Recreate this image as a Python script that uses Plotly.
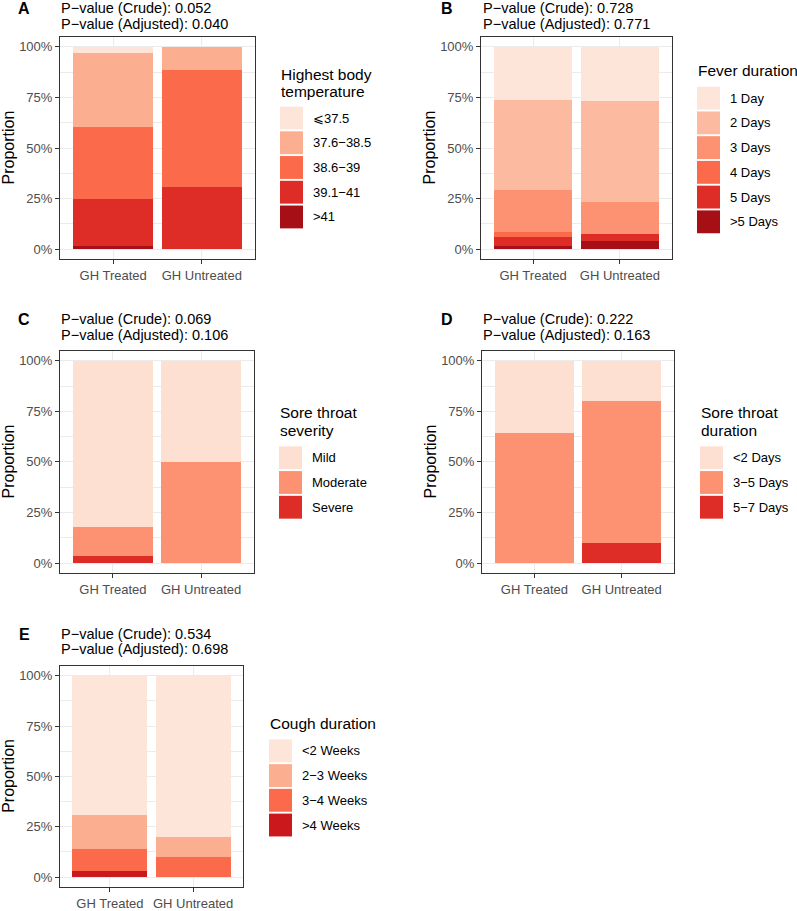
import plotly.graph_objects as go

# ---------------- data ----------------
categories = ["GH Treated", "GH Untreated"]

temp_levels = ["⩽37.5", "37.6−38.5", "38.6−39", "39.1−41", ">41"]
temp_treated = [2.8, 36.7, 35.5, 23.4, 1.6]
temp_untreated = [0.0, 11.5, 57.7, 30.8, 0.0]

fever_levels = ["1 Day", "2 Days", "3 Days", "4 Days", "5 Days", ">5 Days"]
fever_treated = [26.5, 44.1, 20.7, 2.7, 4.4, 1.6]
fever_untreated = [26.9, 50.0, 15.4, 0.0, 3.9, 3.8]

severity_levels = ["Mild", "Moderate", "Severe"]
severity_treated = [82.1, 14.3, 3.6]
severity_untreated = [50.0, 50.0, 0.0]

throat_levels = ["<2 Days", "3−5 Days", "5−7 Days"]
throat_treated = [35.7, 64.3, 0.0]
throat_untreated = [20.0, 70.0, 10.0]

cough_levels = ["<2 Weeks", "2−3 Weeks", "3−4 Weeks", ">4 Weeks"]
cough_treated = [69.1, 16.8, 11.0, 3.1]
cough_untreated = [80.0, 10.0, 10.0, 0.0]

p_crude = ["0.052", "0.728", "0.069", "0.222", "0.534"]
p_adjusted = ["0.040", "0.771", "0.106", "0.163", "0.698"]
panel_letters = ["A", "B", "C", "D", "E"]
legend_titles = [["Highest body", "temperature"], ["Fever duration"],
                 ["Sore throat", "severity"], ["Sore throat", "duration"],
                 ["Cough duration"]]

# ---------------- styles ----------------
reds5 = ["#fee5d9", "#fcae91", "#fb6a4a", "#de2d26", "#a50f15"]
reds6 = ["#fee5d9", "#fcbba1", "#fc9272", "#fb6a4a", "#de2d26", "#a50f15"]
reds3 = ["#fee0d2", "#fc9272", "#de2d26"]
reds4 = ["#fee5d9", "#fcae91", "#fb6a4a", "#cb181d"]

W, H = 797, 911
FONT = "Liberation Sans, Arial, Helvetica, sans-serif"


def fx(x):
    return x / W


def fy(y):
    return 1 - y / H


panels = [
    dict(levels=temp_levels, t=temp_treated, u=temp_untreated, colors=reds5,
         box=(60, 255, 37, 261), leg=(280, [75, 91.7], 107.3), letter=(24, 9), ptxt=(60, 8.5)),
    dict(levels=fever_levels, t=fever_treated, u=fever_untreated, colors=reds6,
         box=(481, 672, 37, 261), leg=(697, [71], 87.3), letter=(447, 9), ptxt=(482, 8.5)),
    dict(levels=severity_levels, t=severity_treated, u=severity_untreated, colors=reds3,
         box=(60, 254, 353, 577), leg=(279, [415.7, 433.3], 449.3), letter=(24, 322), ptxt=(60, 321.5)),
    dict(levels=throat_levels, t=throat_treated, u=throat_untreated, colors=reds3,
         box=(482, 674, 353, 577), leg=(700, [415.7, 433.3], 449.3), letter=(447, 322), ptxt=(482, 321.5)),
    dict(levels=cough_levels, t=cough_treated, u=cough_untreated, colors=reds4,
         box=(60, 243, 670, 893), leg=(269, [728.3], 744.3), letter=(24, 639), ptxt=(60, 638)),
]

fig = go.Figure()
annotations = []
shapes = []
layout_axes = {}

for k, p in enumerate(panels):
    n = "" if k == 0 else str(k + 1)
    xa, ya = "x" + n, "y" + n
    x0, x1, y0, y1 = p["box"]
    # stacked bars: last level at the bottom
    for i in reversed(range(len(p["levels"]))):
        fig.add_trace(go.Bar(
            x=categories, y=[p["t"][i] / 100, p["u"][i] / 100],
            marker=dict(color=p["colors"][i], line=dict(width=0)),
            width=0.9, xaxis=xa, yaxis=ya, showlegend=False,
            name=p["levels"][i], hoverinfo="name+y"))
    layout_axes["xaxis" + n] = dict(
        domain=[fx(x0), fx(x1)], anchor=ya, range=[-0.6, 1.6],
        showline=True, mirror=True, linecolor="#333333", linewidth=1,
        ticks="outside", ticklen=4, tickcolor="#333333", tickwidth=1,
        tickfont=dict(size=13, color="#4D4D4D", family=FONT),
        showgrid=True, gridcolor="#EBEBEB", zeroline=False, fixedrange=True)
    layout_axes["yaxis" + n] = dict(
        domain=[fy(y1), fy(y0)], anchor=xa, range=[-0.05, 1.05],
        tickvals=[0, 0.25, 0.5, 0.75, 1.0], tickformat=".0%",
        showline=True, mirror=True, linecolor="#333333", linewidth=1,
        ticks="outside", ticklen=4, tickcolor="#333333", tickwidth=1,
        tickfont=dict(size=13, color="#4D4D4D", family=FONT),
        showgrid=True, gridcolor="#EBEBEB", gridwidth=1,
        minor=dict(tickvals=[0.125, 0.375, 0.625, 0.875], showgrid=True,
                   gridcolor="#EBEBEB", gridwidth=0.5, ticks=""),
        zeroline=False, fixedrange=True)

    # panel letter
    lx, ly = p["letter"]
    annotations.append(dict(text="<b>%s</b>" % panel_letters[k], x=fx(lx), y=fy(ly),
                            xref="paper", yref="paper", showarrow=False,
                            xanchor="center", yanchor="middle",
                            font=dict(size=16, color="black", family=FONT)))
    # p-value lines
    px0, py0 = p["ptxt"]
    for j, line in enumerate(["P−value (Crude): " + p_crude[k],
                              "P−value (Adjusted): " + p_adjusted[k]]):
        annotations.append(dict(text=line, x=fx(px0 - 1), y=fy(py0 + j * 15.5),
                                xref="paper", yref="paper", showarrow=False,
                                xanchor="left", yanchor="middle",
                                font=dict(size=14.5, color="black", family=FONT)))
    # y axis title
    annotations.append(dict(text="Proportion", x=fx(x0 - 51.5), y=fy((y0 + y1) / 2),
                            xref="paper", yref="paper", showarrow=False,
                            textangle=-90, xanchor="center", yanchor="middle",
                            font=dict(size=16, color="black", family=FONT)))
    # legend
    gx, title_ys, key_top = p["leg"]
    for line, ty in zip(legend_titles[k], title_ys):
        annotations.append(dict(text=line, x=fx(gx - 1), y=fy(ty), xref="paper", yref="paper",
                                showarrow=False, xanchor="left", yanchor="middle",
                                font=dict(size=15.5, color="black", family=FONT)))
    for i, (lev, col) in enumerate(zip(p["levels"], p["colors"])):
        top = key_top + i * 24.9
        shapes.append(dict(type="rect", xref="paper", yref="paper",
                           x0=fx(gx), x1=fx(gx + 23), y0=fy(top + 23), y1=fy(top),
                           fillcolor=col, line=dict(width=0)))
        annotations.append(dict(text=lev, x=fx(gx + 31), y=fy(top + 11.5),
                                xref="paper", yref="paper", showarrow=False,
                                xanchor="left", yanchor="middle",
                                font=dict(size=13, color="black", family=FONT)))

fig.update_layout(
    width=W, height=H, margin=dict(l=0, r=0, t=0, b=0),
    paper_bgcolor="white", plot_bgcolor="white",
    barmode="stack", bargap=0.1,
    font=dict(family=FONT),
    annotations=annotations, shapes=shapes,
    **layout_axes)

fig.write_html("out.html", config={"displayModeBar": False},
               post_script="document.body.style.margin='0';document.body.style.padding='0';")
